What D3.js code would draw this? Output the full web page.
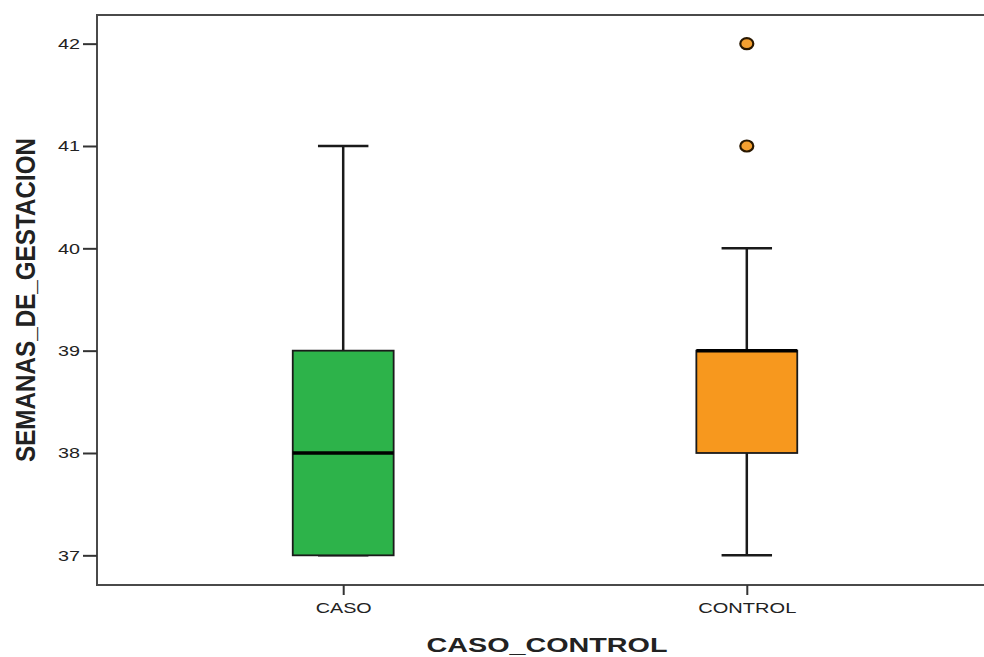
<!DOCTYPE html>
<html><head><meta charset="utf-8">
<script src="https://cdn.jsdelivr.net/npm/d3@7"></script>
<style>body{margin:0;background:#fff;overflow:hidden}svg{display:block}</style>
</head><body>
<script>
const categories = ["CASO", "CONTROL"];
const whiskerLow = [37, 37];
const q1 = [37, 38];
const median = [38, 39];
const q3 = [39, 39];
const whiskerHigh = [41, 40];
const outliers = [[], [41, 42]];
const yTicks = [37, 38, 39, 40, 41, 42];

(function () {
const fills = ["#2db34a", "#f7981e"];
const W = 984, H = 657;
const svg = d3.select("body").append("svg").attr("width", W).attr("height", H);
const mLeft = 97, mRight = 993, mTop = 15, mBottom = 585;

const x = d3.scalePoint().domain(categories).range([mLeft, mRight]).padding(0.61);
const y = d3.scaleLinear().domain([36.71, 42.28]).range([mBottom, mTop]);
const step = x.step();
const boxW = step * 0.25, capW = step * 0.125;

// frame (right side runs past the visible edge)
svg.append("rect").attr("x", mLeft).attr("y", mTop).attr("width", mRight + 40 - mLeft).attr("height", mBottom - mTop)
  .attr("fill", "none").attr("stroke", "#4a4a4a").attr("stroke-width", 2);

// y axis
const ya = svg.append("g").attr("transform", `translate(${mLeft},0)`)
  .call(d3.axisLeft(y).tickValues(yTicks).tickSize(14).tickPadding(3).tickFormat(d3.format("d")));
ya.select(".domain").remove();
ya.selectAll(".tick line").attr("stroke", "#333").attr("stroke-width", 2);
ya.selectAll(".tick text").attr("font-family", "Liberation Sans, Arial, sans-serif").attr("font-size", 15.5)
  .attr("fill", "#222").attr("textLength", 22).attr("lengthAdjust", "spacingAndGlyphs");

// x axis
const xa = svg.append("g").attr("transform", `translate(0,${mBottom})`)
  .call(d3.axisBottom(x).tickSize(10).tickPadding(7));
xa.select(".domain").remove();
xa.selectAll(".tick line").attr("stroke", "#333").attr("stroke-width", 2);
const xLabelLen = {"CASO": 56, "CONTROL": 98};
xa.selectAll(".tick text").attr("font-family", "Liberation Sans, Arial, sans-serif").attr("font-size", 15.5)
  .attr("fill", "#222").attr("textLength", d => xLabelLen[d]).attr("lengthAdjust", "spacingAndGlyphs");

// boxes
const data = categories.map((c, i) => ({c, i, lo: whiskerLow[i], q1: q1[i], med: median[i], q3: q3[i], hi: whiskerHigh[i], out: outliers[i]}));
const g = svg.append("g");
data.forEach(d => {
  const cx = x(d.c);
  g.append("line").attr("x1", cx).attr("x2", cx).attr("y1", y(d.q3)).attr("y2", y(d.hi))
    .attr("stroke", "#1a1a1a").attr("stroke-width", 2.5);
  g.append("line").attr("x1", cx).attr("x2", cx).attr("y1", y(d.q1)).attr("y2", y(d.lo))
    .attr("stroke", "#1a1a1a").attr("stroke-width", 2.5);
  [d.lo, d.hi].forEach(v => {
    g.append("line").attr("x1", cx - capW / 2).attr("x2", cx + capW / 2).attr("y1", y(v)).attr("y2", y(v))
      .attr("stroke", "#1a1a1a").attr("stroke-width", 2.5);
  });
  g.append("rect").attr("x", cx - boxW / 2).attr("y", y(d.q3)).attr("width", boxW).attr("height", y(d.q1) - y(d.q3))
    .attr("fill", fills[d.i]).attr("stroke", "#1a1a1a").attr("stroke-width", 1.8);
  g.append("line").attr("x1", cx - boxW / 2).attr("x2", cx + boxW / 2).attr("y1", y(d.med)).attr("y2", y(d.med))
    .attr("stroke", "#000").attr("stroke-width", 3.5);
  d.out.forEach(v => {
    g.append("ellipse").attr("cx", cx).attr("cy", y(v)).attr("rx", 6.5).attr("ry", 5.5)
      .attr("fill", "#f5a030").attr("stroke", "#2a1800").attr("stroke-width", 2.2);
  });
});

// titles
svg.append("text").attr("x", 547).attr("y", 652).attr("text-anchor", "middle")
  .attr("font-family", "Liberation Sans, Arial, sans-serif").attr("font-weight", "bold").attr("font-size", 20)
  .attr("fill", "#222").attr("textLength", 241).attr("lengthAdjust", "spacingAndGlyphs").text("CASO_CONTROL");
svg.append("text").attr("transform", "translate(35,300) rotate(-90)").attr("text-anchor", "middle")
  .attr("font-family", "Liberation Sans, Arial, sans-serif").attr("font-weight", "bold").attr("font-size", 28)
  .attr("fill", "#222").attr("textLength", 324).attr("lengthAdjust", "spacingAndGlyphs").text("SEMANAS_DE_GESTACION");
})();
</script>
</body></html>
